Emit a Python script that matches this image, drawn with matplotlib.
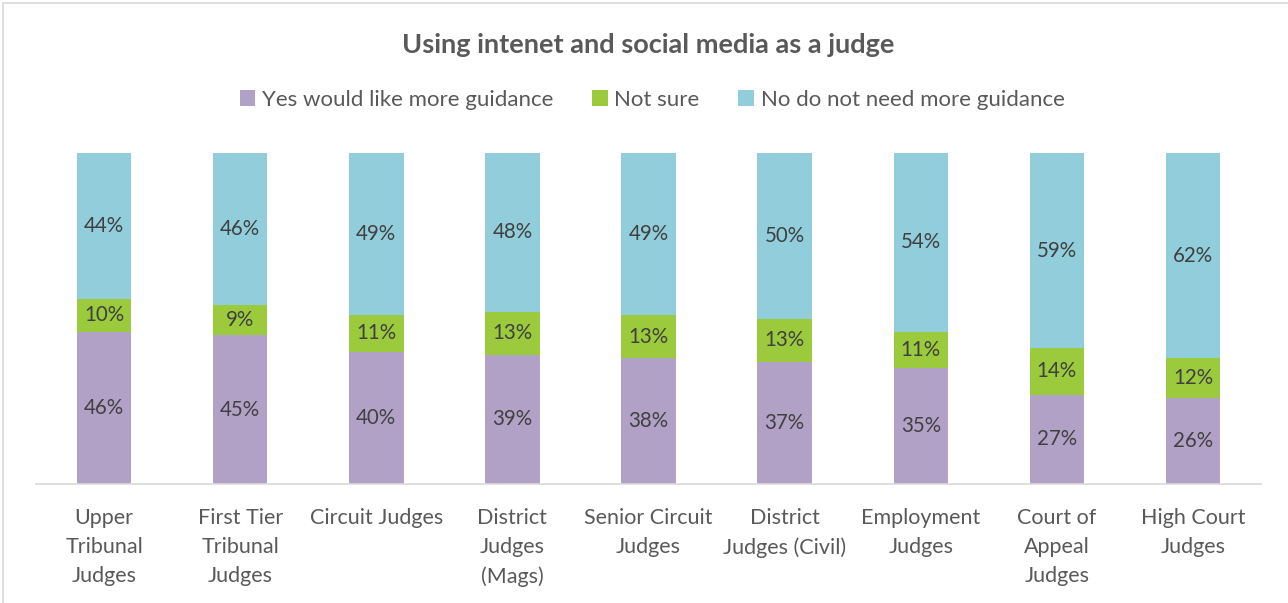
import numpy as np
import matplotlib
matplotlib.use("Agg")
import matplotlib.pyplot as plt
from matplotlib.patches import Rectangle

plt.rcParams['font.family'] = ['Lato', 'DejaVu Sans']

# data (percent)
categories = ["Upper\nTribunal\nJudges", "First Tier\nTribunal\nJudges", "Circuit Judges",
              "District\nJudges\n(Mags)", "Senior Circuit\nJudges", "District\nJudges (Civil)",
              "Employment\nJudges", "Court of\nAppeal\nJudges", "High Court\nJudges"]
yes_more = [46, 45, 40, 39, 38, 37, 35, 27, 26]
not_sure = [10, 9, 11, 13, 13, 13, 11, 14, 12]
no_need = [44, 46, 49, 48, 49, 50, 54, 59, 62]
series_names = ["Yes would like more guidance", "Not sure", "No do not need more guidance"]

colors = ["#B2A1C7", "#9BCB3C", "#92CDDC"]
txt = "#595959"

fig = plt.figure(figsize=(12.88, 6.03), dpi=100)
ax = fig.add_axes([36/1288, 1 - 484/603, (1261-36)/1288, 331/603])

x = np.arange(len(categories))
bottom = np.zeros(len(categories))
for vals, col, name in zip([yes_more, not_sure, no_need], colors, series_names):
    vals = np.array(vals)
    bars = ax.bar(x, vals, 0.4, bottom=bottom, color=col, label=name)
    for xi, b, v in zip(x, bottom, vals):
        ax.text(xi, b + v / 2, f"{v}%", ha="center", va="center", fontsize=14.8, color="#404040")
    bottom += vals

ax.set_xlim(-0.5, len(categories) - 0.5)
ax.set_ylim(0, 100)
ax.set_yticks([])
ax.set_xticks(x)
ax.set_xticklabels(categories, fontsize=15.5, color=txt, linespacing=1.57)
ax.tick_params(axis="x", length=0, pad=17)
for s in ["top", "right", "left"]:
    ax.spines[s].set_visible(False)
ax.spines["bottom"].set_color("#D9D9D9")
ax.spines["bottom"].set_linewidth(1.2)

fig.text(648/1288, 1 - 45/603, "Using intenet and social media as a judge", ha="center", va="center",
         fontsize=19.5, fontweight="bold", color=txt)

fig.legend(loc="center", bbox_to_anchor=(652/1288, 1 - 100/603), ncol=3, frameon=False,
           fontsize=16, handlelength=0.7, handleheight=0.7, handletextpad=0.3,
           columnspacing=1.75, labelcolor=txt)

# chart border
fig.add_artist(Rectangle((3/1288, -0.1), 1.2, 1 - 3/603 + 0.1, transform=fig.transFigure,
                         fill=False, edgecolor="#D9D9D9", linewidth=1.2))

fig.savefig("out.png", dpi=100)
